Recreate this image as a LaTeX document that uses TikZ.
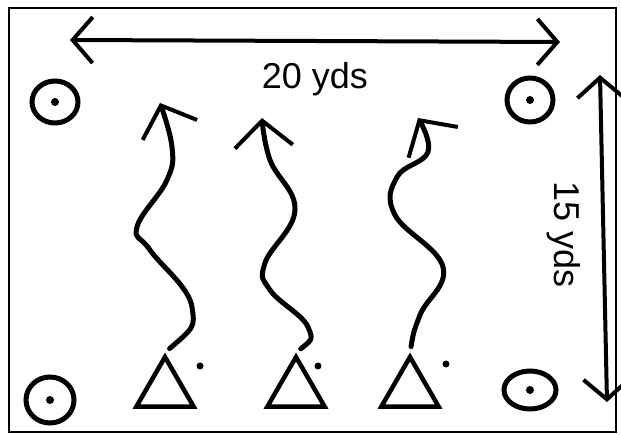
\documentclass[tikz,border=0pt]{standalone}
\usepackage{fontspec}
\setmainfont{Liberation Sans}
\usetikzlibrary{arrows.meta,shapes.geometric,positioning}

\tikzset{
  cone/.style={draw, ellipse, line width=5pt, inner sep=0pt},
  player/.style={draw, regular polygon, regular polygon sides=3, line width=4.5pt, minimum size=66pt, inner sep=0pt},
  dribble/.style={line width=5pt, line cap=round, line join=round, shorten <=6pt, -{Straight Barb[length=26pt, width=58pt, line width=4pt]}},
  measure/.style={line width=4pt, line cap=round, {Straight Barb[length=20pt, width=46pt, line width=4pt]}-{Straight Barb[length=20pt, width=46pt, line width=4pt]}},
  dist/.style={font=\fontsize{36}{40}\selectfont, inner sep=1pt}
}

\begin{document}
\begin{tikzpicture}[x=1pt, y=-1pt]
  \useasboundingbox (0,0) rectangle (621,435);

  % field outline
  \draw[line width=1.5pt] (9,8) rectangle (616,432);

  % corner cones
  \node[cone, minimum width=46pt, minimum height=42pt] (cone1) at (55,102) {};
  \node[cone, minimum width=46pt, minimum height=44pt] (cone2) at (530,100) {};
  \node[cone, minimum width=48pt, minimum height=46pt] (cone3) at (50,400) {};
  \node[cone, minimum width=52pt, minimum height=38pt] (cone4) at (530,390) {};
  \foreach \c in {cone1,cone2,cone3,cone4}
    \fill (\c) circle (4pt);

  % players and their balls
  \node[player] (p1) at (165,390) {};
  \node[player] (p2) at (296,390) {};
  \node[player] (p3) at (410,390) {};
  \fill (200,366) circle (3.5pt) coordinate (ball1);
  \fill (318,366) circle (3.5pt) coordinate (ball2);
  \fill (446,364) circle (3.5pt) coordinate (ball3);

  % dribbling runs
  \draw[dribble] plot[smooth, tension=0.7] coordinates {(p1.north) (192,307) (150,250) (137,227) (167,180) (172,147) (160,103)};
  \draw[dribble] plot[smooth, tension=0.7] coordinates {(p2.north) (308,327) (270,290) (265,263) (295,210) (270,160) (262,118)};
  \draw[dribble] plot[smooth, tension=0.7] coordinates {(p3.north) (420,315) (443,267) (395,215) (397,177) (428,152) (418,118)};

  % width of the grid
  \coordinate (w) at (70,40);
  \coordinate (e) at (560,42);
  \draw[measure] (w) -- (e) node[midway, below=18pt, dist] (wide) {20 yds};

  % length of the grid
  \coordinate (n) at (600,75);
  \coordinate (s) at (607,402);
  \draw[measure] (n) -- (s);
  \node[dist, rotate=-90] (tall) at (564,235) {15 yds};
\end{tikzpicture}
\end{document}
